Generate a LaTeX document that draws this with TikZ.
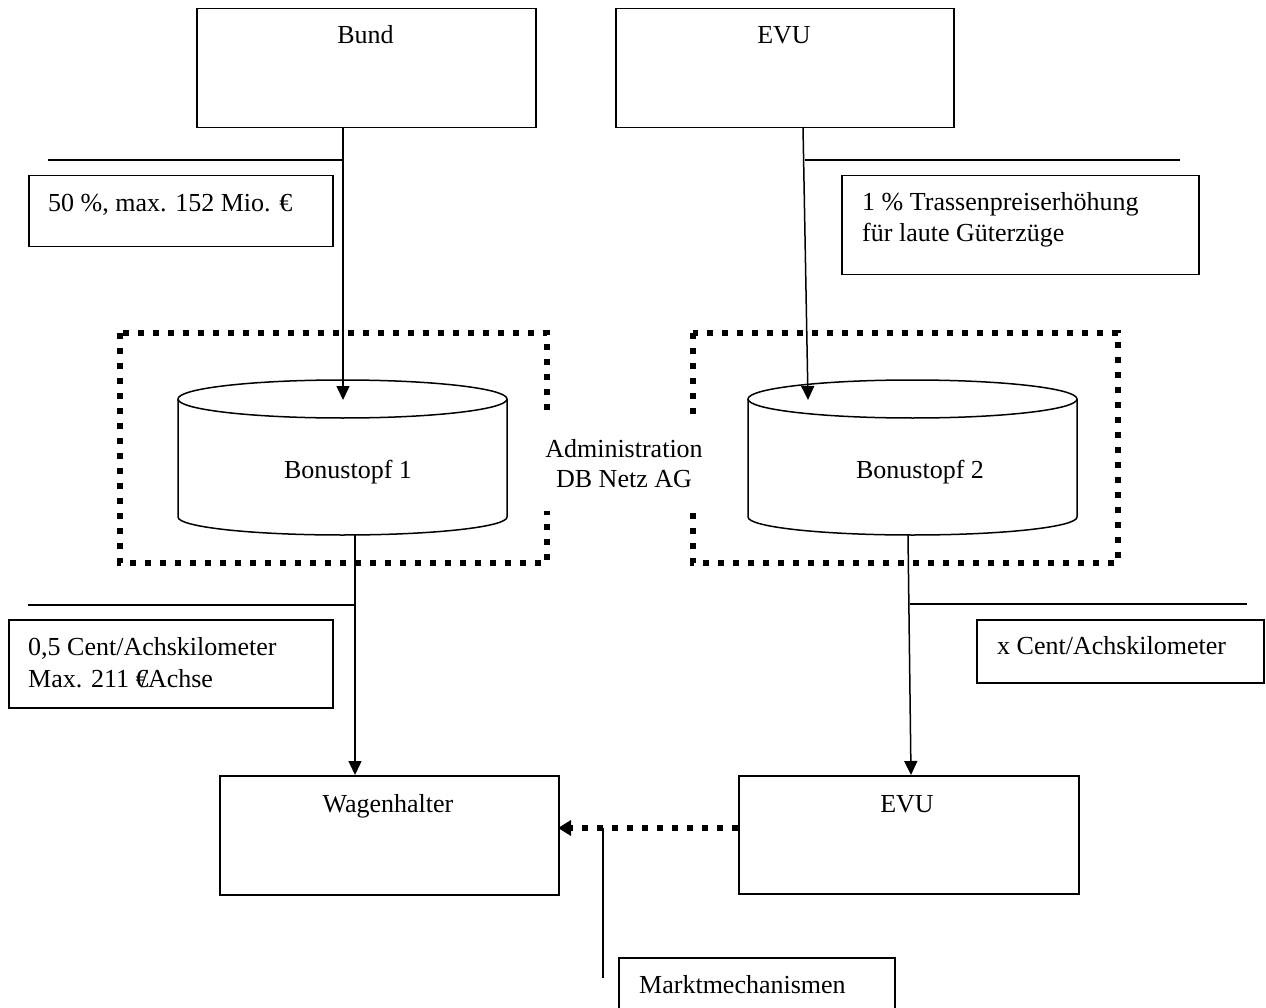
\documentclass[tikz,border=0pt]{standalone}
\usepackage{fontspec}
\setmainfont{Liberation Serif}
\usetikzlibrary{arrows.meta}
\begin{document}
\begin{tikzpicture}[x=1pt,y=-1pt,
  every node/.style={font=\fontsize{26}{30}\selectfont},
  ln/.style={line width=1.5pt},
  boxr/.style={draw, line width=1.5pt, rectangle, inner sep=0pt, anchor=north west},
  arr/.style={ln, -{Triangle[length=14pt,width=13pt]}},
  dotbox/.style={line width=6pt, dash pattern=on 6pt off 9pt},
  txt/.style={anchor=base west, inner sep=0pt},
  ctxt/.style={anchor=base, inner sep=0pt}]
\useasboundingbox (0,0) rectangle (1266,1008);

% top boxes
\node[boxr, minimum width=339, minimum height=119] (bund) at (196,8) {};
\node[ctxt] (tbund) at (365.5,44) {Bund};
\node[boxr, minimum width=338, minimum height=119] (evu1) at (615,8) {};
\node[ctxt] (tevu1) at (784,44) {EVU};

% dotted administration boxes
\draw[dotbox] (120,333) rectangle (547,563);
\draw[dotbox] (693,333) rectangle (1118,563);
\node[fill=white, inner sep=3pt, minimum height=93, align=center] (admin) at (624,464) {Administration\\DB Netz AG};

% cylinders
\node[minimum width=329, minimum height=156, inner sep=0pt, anchor=north west] (b1) at (178,380) {};
\draw[ln, fill=white] (178,399) -- (178,517) arc[start angle=180, end angle=0, x radius=164.5, y radius=18] -- (507,399);
\draw[ln, fill=white] (342.5,399) ellipse [x radius=164.5, y radius=19];
\node[ctxt] (tb1) at (348,478) {Bonustopf 1};

\node[minimum width=329, minimum height=156, inner sep=0pt, anchor=north west] (b2) at (748,380) {};
\draw[ln, fill=white] (748,399) -- (748,517) arc[start angle=180, end angle=0, x radius=164.5, y radius=18] -- (1077,399);
\draw[ln, fill=white] (912.5,399) ellipse [x radius=164.5, y radius=19];
\node[ctxt] (tb2) at (920,478) {Bonustopf 2};

% upper connectors
\coordinate (b1in) at (343,400);
\draw[arr] (bund.south -| b1in) -- (b1in);
\coordinate (l1) at (48,160);
\draw[ln] (l1) -- (l1 -| b1in);
\node[boxr, minimum width=304, minimum height=71] (t1) at (28,175) {};
\node[txt] (tt1) at (48,212) {50 \%, max. 152 Mio. €};

\coordinate (e1out) at (803,127);
\coordinate (b2in) at (808,400);
\draw[arr] (e1out) -- (b2in);
\coordinate (r1a) at (805,160);
\coordinate (r1b) at (1180,160);
\draw[ln] (r1a) -- (r1b);
\node[boxr, minimum width=357, minimum height=99] (t2) at (841,175) {};
\node[txt] (tt2a) at (862,211) {1 \% Trassenpreiserhöhung};
\node[txt] (tt2b) at (862,242) {für laute Güterzüge};

% lower boxes
\node[boxr, minimum width=339, minimum height=119] (wag) at (219,775) {};
\node[ctxt] (twag) at (388,812) {Wagenhalter};
\node[boxr, minimum width=340, minimum height=118] (evu2) at (738,775) {};
\node[ctxt] (tevu2) at (907,812) {EVU};

% lower connectors
\coordinate (b1out) at (355,535);
\draw[arr] (b1out) -- (b1out |- wag.north);
\coordinate (l2) at (28,605);
\draw[ln] (l2) -- (l2 -| b1out);
\node[boxr, minimum width=324, minimum height=88] (t3) at (8,619) {};
\node[txt] (tt3a) at (28,655) {0,5 Cent/Achskilometer};
\node[txt] (tt3b) at (28,687) {Max. 211 €\kern-0.3em/Achse};

\coordinate (b2out) at (908,535);
\coordinate (e2in) at (911,775);
\draw[arr] (b2out) -- (e2in);
\coordinate (r2a) at (910,604);
\coordinate (r2b) at (1247,604);
\draw[ln] (r2a) -- (r2b);
\node[boxr, minimum width=287, minimum height=63] (t4) at (976,619) {};
\node[txt] (tt4) at (997,654) {x Cent/Achskilometer};

% market arrow
\coordinate (dA) at (738,828);
\coordinate (dB) at (558,828);
\draw[dotbox, -{Triangle[length=13pt,width=15pt]}] (dA) -- (dB);
\coordinate (m1) at (603,828);
\coordinate (m2) at (603,978);
\draw[ln] (m1) -- (m2);
\node[boxr, minimum width=276, minimum height=80] (mk) at (618,957) {};
\node[txt] (tmk) at (639,993) {Marktmechanismen};
\end{tikzpicture}
\end{document}
